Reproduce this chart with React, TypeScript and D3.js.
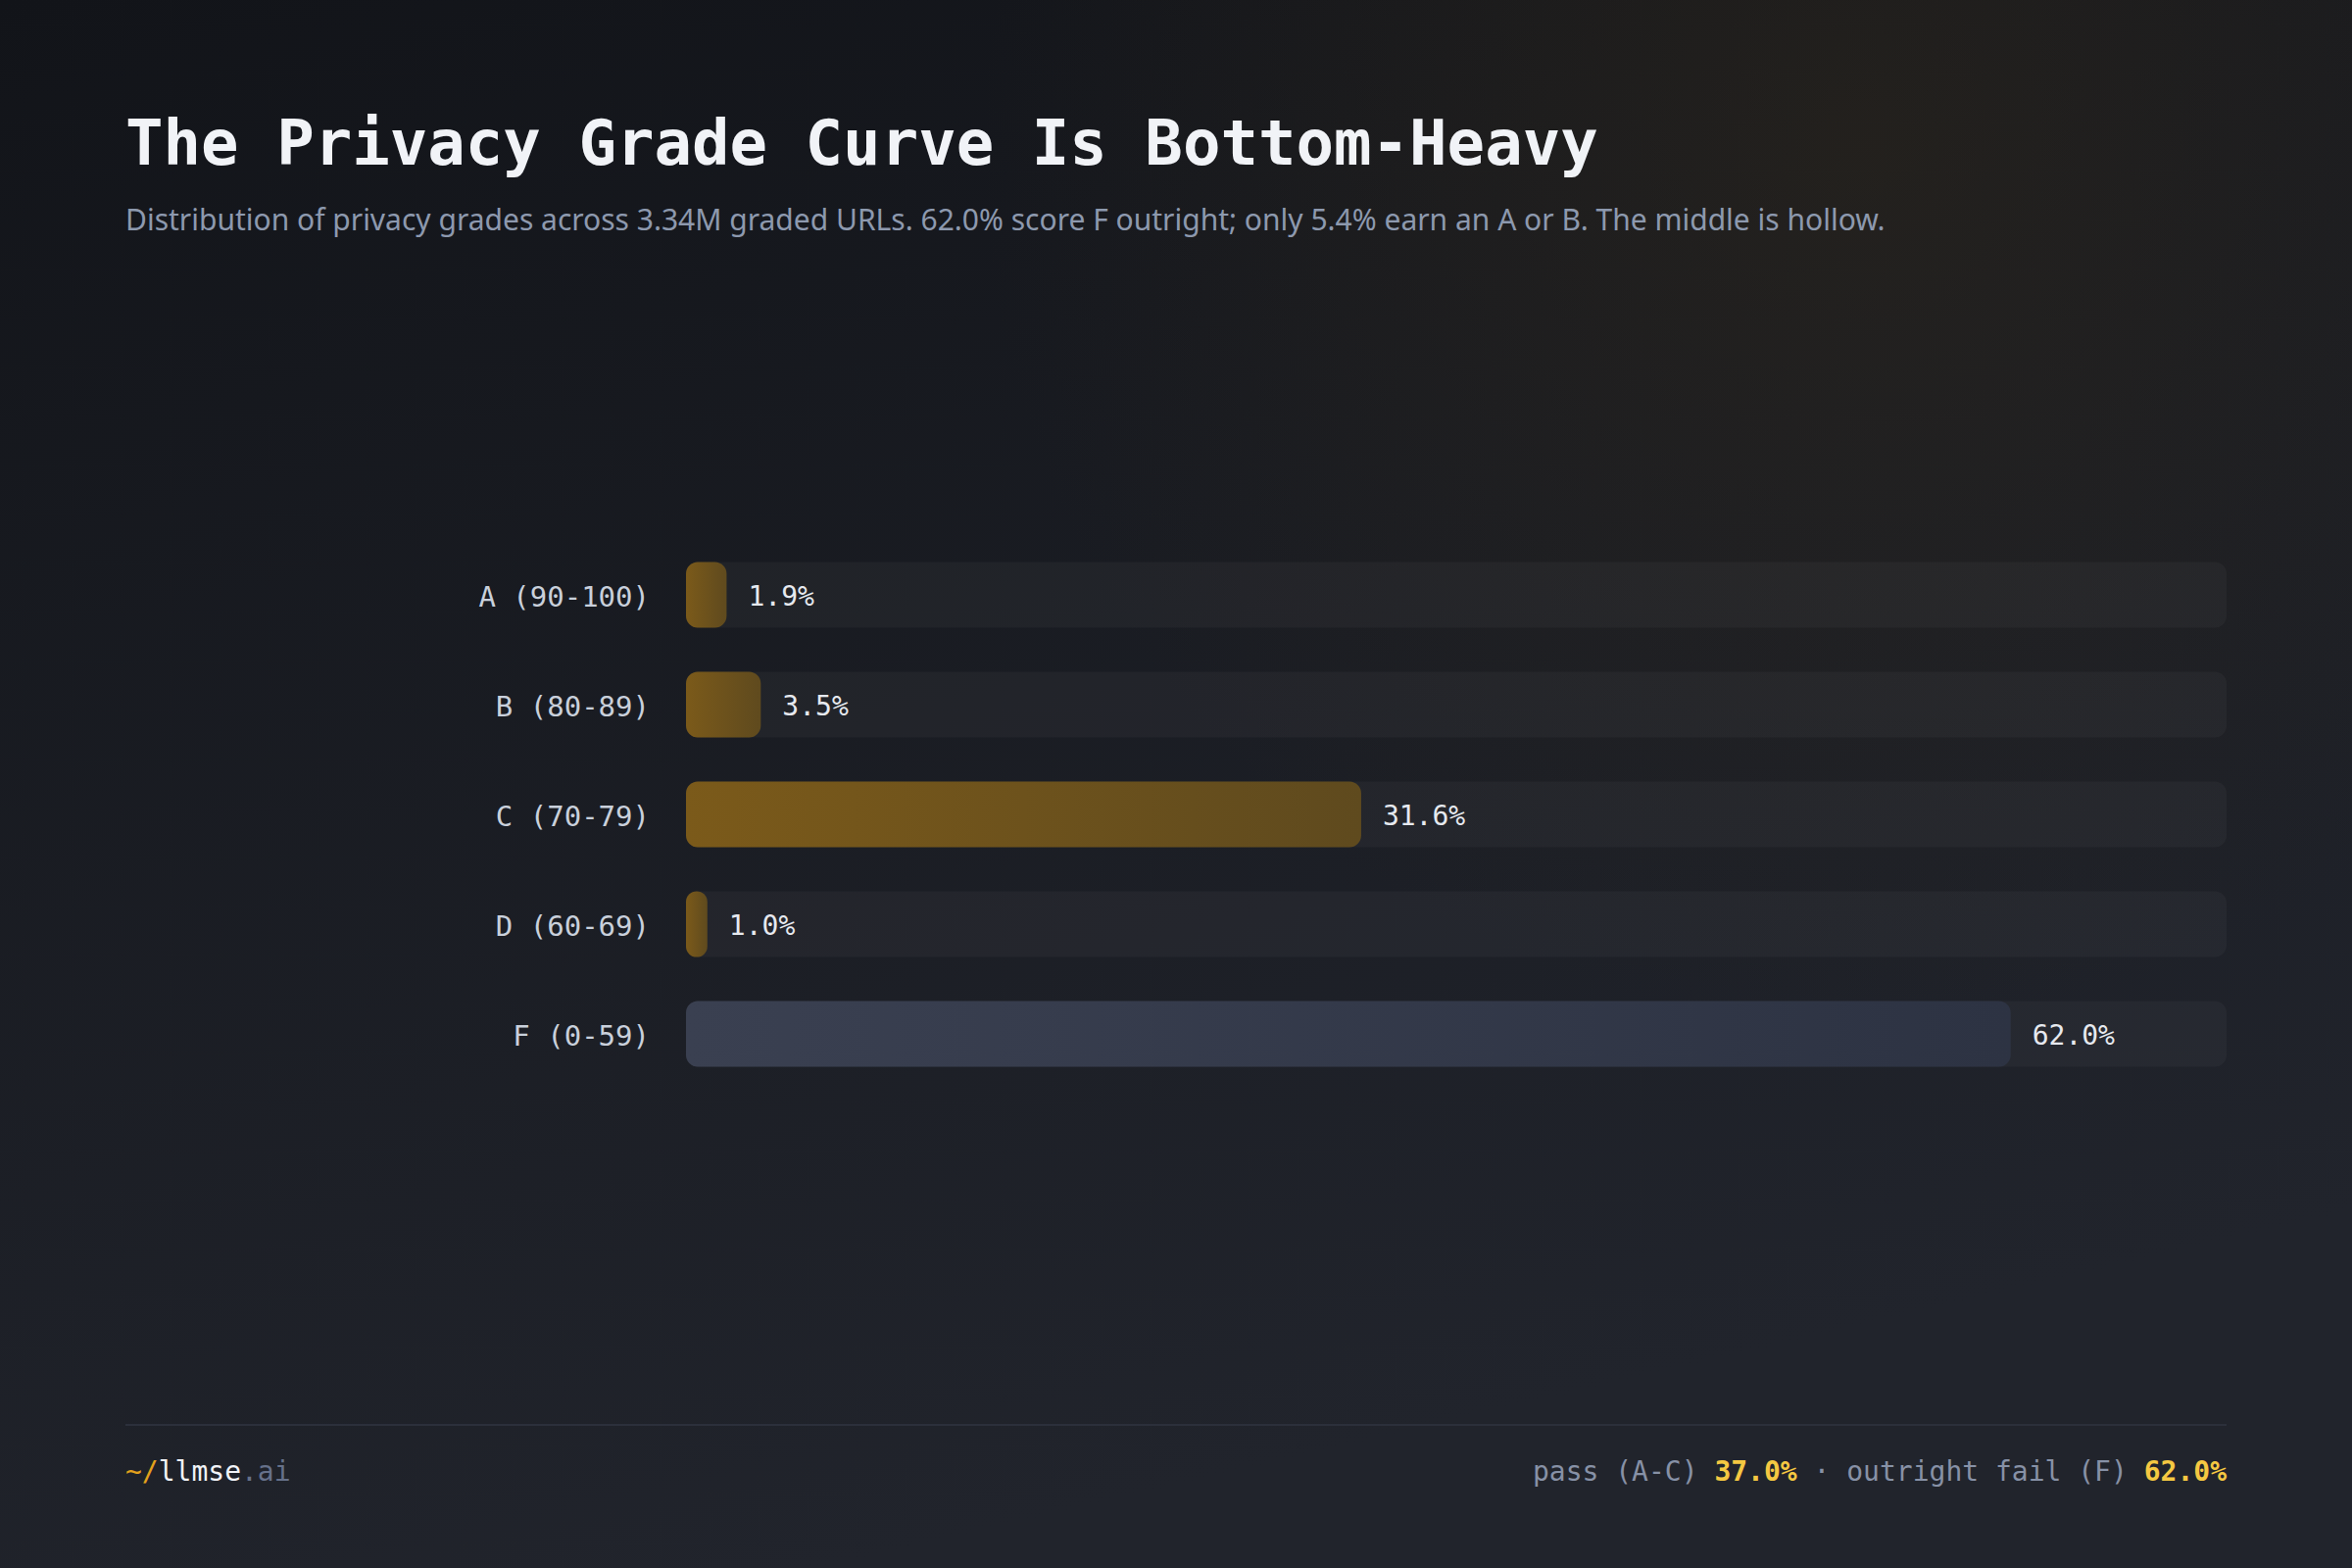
import React from 'react';
import * as d3 from 'd3';

const W = 2400;
const H = 1600;

const grades = ['A (90-100)', 'B (80-89)', 'C (70-79)', 'D (60-69)', 'F (0-59)'];
const shares = [1.9, 3.5, 31.6, 1.0, 62.0];
const failing = [false, false, false, false, true];

const titleText = 'The Privacy Grade Curve Is Bottom-Heavy';
const subtitleText =
  'Distribution of privacy grades across 3.34M graded URLs. 62.0% score F outright; only 5.4% earn an A or B. The middle is hollow.';

const passShare = '37.0%';
const failShare = '62.0%';

const mono = "'DejaVu Sans Mono', 'Liberation Mono', monospace";
const sans = "'Noto Sans', 'Open Sans', sans-serif";

const left = 700;
const right = 2272;

/**
 * Horizontal bar chart of privacy grade shares.
 */
export default function App() {
  const y = d3.scaleBand<string>().domain(grades).range([551, 1111]).paddingInner(0.4).paddingOuter(0.2);
  const x = d3.scaleLinear().domain([0, d3.max(shares)! * 1.163]).range([left, right]);
  const fmt = d3.format('.1f');

  return (
    <svg
      width={W}
      height={H}
      viewBox={`0 0 ${W} ${H}`}
      style={{ position: 'absolute', left: 0, top: 0, display: 'block' }}
    >
      <defs>
        <linearGradient id="bg" x1="0" y1="0" x2="0.35" y2="1">
          <stop offset="0%" stopColor="#121419" />
          <stop offset="100%" stopColor="#21242c" />
        </linearGradient>
        <radialGradient id="glow" cx="1900" cy="150" r="900" gradientUnits="userSpaceOnUse">
          <stop offset="0%" stopColor="#3a2e1a" stopOpacity="0.35" />
          <stop offset="100%" stopColor="#3a2e1a" stopOpacity="0" />
        </radialGradient>
        <linearGradient id="gold" x1="0" y1="0" x2="1" y2="0">
          <stop offset="0%" stopColor="#7b5a1a" />
          <stop offset="100%" stopColor="#5f4a1e" />
        </linearGradient>
        <linearGradient id="slate" x1="0" y1="0" x2="1" y2="0">
          <stop offset="0%" stopColor="#3a4051" />
          <stop offset="100%" stopColor="#2d3343" />
        </linearGradient>
      </defs>

      <rect width={W} height={H} fill="url(#bg)" />
      <rect width={W} height={H} fill="url(#glow)" />

      <text x={128} y={168} fontFamily={mono} fontWeight={700} fontSize={64} fill="#f1f3f7">
        {titleText}
      </text>
      <text x={128} y={235} fontFamily={sans} fontSize={30} fill="#8d99ae">
        {subtitleText}
      </text>

      {grades.map((g, i) => {
        const y0 = y(g)!;
        const bh = y.bandwidth();
        const cy = y0 + bh / 2;
        const x1 = x(shares[i]);
        return (
          <g key={g}>
            <rect x={left} y={y0} width={right - left} height={bh} rx={12} fill="#ffffff" fillOpacity={0.035} />
            <rect
              x={left}
              y={y0}
              width={x1 - left}
              height={bh}
              rx={Math.min(12, (x1 - left) / 2)}
              fill={failing[i] ? 'url(#slate)' : 'url(#gold)'}
            />
            <text
              x={663}
              y={cy + 2}
              textAnchor="end"
              dominantBaseline="central"
              fontFamily={mono}
              fontSize={29}
              fill="#c9d0db"
            >
              {g}
            </text>
            <text
              x={x1 + 22}
              y={cy + 1}
              dominantBaseline="central"
              fontFamily={mono}
              fontSize={28}
              fill="#e6e9ef"
            >
              {fmt(shares[i])}%
            </text>
          </g>
        );
      })}

      <line x1={128} x2={right} y1={1454} y2={1454} stroke="#2c303b" strokeWidth={2} />

      <text x={128} y={1511} fontFamily={mono} fontSize={28}>
        <tspan fill="#e3a11c">~/</tspan>
        <tspan fill="#f1f3f7">llmse</tspan>
        <tspan fill="#66718a">.ai</tspan>
      </text>

      <text x={right} y={1511} textAnchor="end" fontFamily={mono} fontSize={28} fill="#8791a6">
        <tspan>pass (A-C) </tspan>
        <tspan fill="#f5c842" fontWeight={700}>{passShare}</tspan>
        <tspan> · outright fail (F) </tspan>
        <tspan fill="#f5c842" fontWeight={700}>{failShare}</tspan>
      </text>
    </svg>
  );
}
